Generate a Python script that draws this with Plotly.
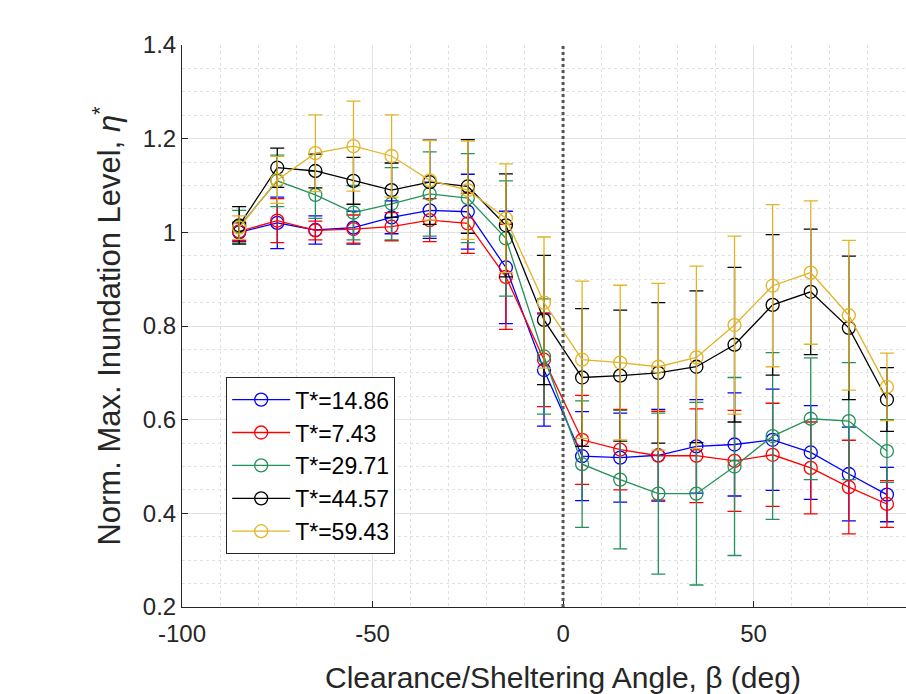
import plotly.graph_objects as go

beta = [-85, -75, -65, -55, -45, -35, -25, -15, -5, 5, 15, 25, 35, 45, 55, 65, 75, 85]

names = ["T*=14.86", "T*=7.43", "T*=29.71", "T*=44.57", "T*=59.43"]
colors = ["#0000FF", "#FF0000", "#23915A", "#000000", "#E2B426"]

eta_1486 = [1.000, 1.020, 1.005, 1.010, 1.032, 1.047, 1.044, 0.925, 0.706, 0.522, 0.519, 0.524, 0.543, 0.547, 0.557, 0.530, 0.484, 0.440]
err_1486 = [0.020, 0.055, 0.030, 0.035, 0.035, 0.060, 0.080, 0.120, 0.120, 0.095, 0.095, 0.098, 0.100, 0.110, 0.108, 0.100, 0.100, 0.058]

eta_743 = [1.002, 1.025, 1.004, 1.007, 1.012, 1.026, 1.019, 0.905, 0.728, 0.557, 0.536, 0.523, 0.523, 0.512, 0.525, 0.497, 0.456, 0.420]
err_743 = [0.020, 0.047, 0.020, 0.030, 0.030, 0.046, 0.064, 0.112, 0.100, 0.095, 0.086, 0.095, 0.100, 0.108, 0.110, 0.098, 0.100, 0.050]

eta_2971 = [1.012, 1.110, 1.080, 1.042, 1.061, 1.082, 1.073, 0.987, 0.735, 0.505, 0.472, 0.442, 0.442, 0.500, 0.565, 0.602, 0.597, 0.533]
err_2971 = [0.035, 0.055, 0.050, 0.058, 0.077, 0.090, 0.095, 0.123, 0.123, 0.135, 0.148, 0.172, 0.195, 0.190, 0.178, 0.130, 0.125, 0.067]

eta_4457 = [1.015, 1.138, 1.131, 1.110, 1.090, 1.107, 1.098, 1.015, 0.813, 0.690, 0.694, 0.700, 0.713, 0.760, 0.845, 0.873, 0.796, 0.643]
err_4457 = [0.040, 0.042, 0.036, 0.050, 0.058, 0.090, 0.100, 0.110, 0.138, 0.147, 0.140, 0.150, 0.162, 0.165, 0.150, 0.134, 0.153, 0.068]

eta_5943 = [1.010, 1.112, 1.169, 1.184, 1.163, 1.111, 1.090, 1.030, 0.850, 0.728, 0.722, 0.713, 0.733, 0.802, 0.886, 0.914, 0.823, 0.670]
err_5943 = [0.025, 0.050, 0.082, 0.096, 0.088, 0.085, 0.105, 0.116, 0.140, 0.168, 0.165, 0.178, 0.195, 0.190, 0.173, 0.153, 0.160, 0.072]

series = [eta_1486, eta_743, eta_2971, eta_4457, eta_5943]
errors = [err_1486, err_743, err_2971, err_4457, err_5943]

fig = go.Figure()
for name, col, y, e in zip(names, colors, series, errors):
    fig.add_trace(go.Scatter(
        x=beta, y=y, name=name, mode="lines+markers",
        line=dict(color=col, width=1.3),
        marker=dict(symbol="circle-open", size=13, color=col, line=dict(width=1.3, color=col)),
        error_y=dict(type="data", array=e, visible=True, color=col, thickness=1.3, width=7),
    ))

fig.add_shape(type="line", xref="x", yref="y", x0=0, x1=0, y0=0.2, y1=1.4,
              line=dict(color="#555555", width=3, dash="dot"), layer="above")

# x-axis title (the original axes extend past the cropped right edge, so it is centred further right)
fig.add_annotation(text="Clearance/Sheltering Angle, β (deg)", xref="paper", yref="paper",
                   x=0.526, y=-0.126, xanchor="center", yanchor="middle", showarrow=False,
                   font=dict(size=30, color="#262626"))

font_family = "Liberation Sans, Arial, sans-serif"
fig.update_layout(
    width=906, height=694,
    margin=dict(l=182, r=0, t=45, b=87),
    paper_bgcolor="white", plot_bgcolor="white",
    font=dict(family=font_family, size=24, color="#262626"),
    showlegend=True,
    legend=dict(
        x=0.061, y=0.094, xanchor="left", yanchor="bottom",
        bgcolor="white", bordercolor="#262626", borderwidth=1,
        font=dict(size=23, color="#000000"),
        tracegroupgap=0, itemwidth=58,
    ),
    xaxis=dict(
        range=[-100, 90], tickvals=[-100, -50, 0, 50], ticktext=["-100", "-50", "0", "50"],
        showline=True, linecolor="#262626", linewidth=1, mirror=False,
        ticks="inside", ticklen=6, tickcolor="#262626",
        showgrid=True, gridcolor="#E3E3E3", gridwidth=1, zeroline=False,
        minor=dict(dtick=10, showgrid=True, gridcolor="#E0E0E0", griddash="dot", gridwidth=1),
        tickfont=dict(size=24),
        ticklabelstandoff=5,
    ),
    yaxis=dict(
        range=[0.2, 1.4], tickvals=[0.2, 0.4, 0.6, 0.8, 1.0, 1.2, 1.4],
        ticktext=["0.2", "0.4", "0.6", "0.8", "1", "1.2", "1.4"],
        showline=True, linecolor="#262626", linewidth=1, mirror=False,
        ticks="inside", ticklen=6, tickcolor="#262626",
        showgrid=True, gridcolor="#E3E3E3", gridwidth=1, zeroline=False,
        minor=dict(dtick=0.05, showgrid=True, gridcolor="#E0E0E0", griddash="dot", gridwidth=1),
        title=dict(text="Norm. Max. Inundation Level, <i>η</i><sup>*</sup>", font=dict(size=31), standoff=12),
        tickfont=dict(size=24),
    ),
)

fig.write_html("out.html")
